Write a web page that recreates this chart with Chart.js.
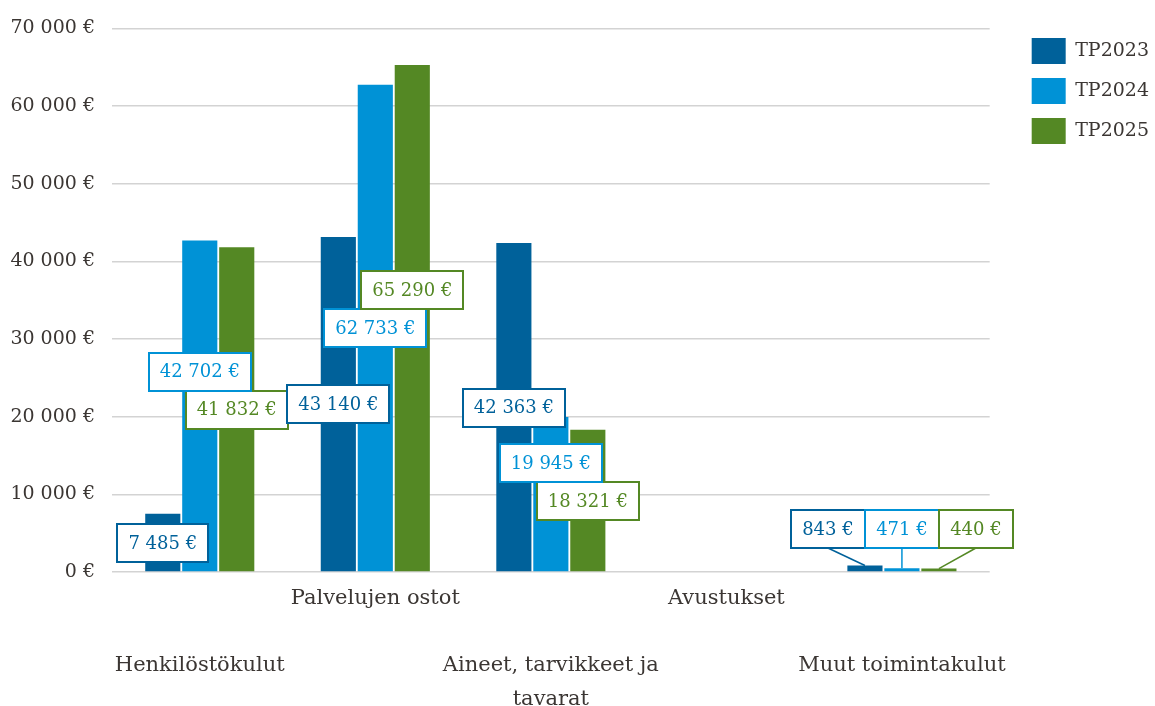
<!DOCTYPE html>
<html>
  <head>
    <meta charset="utf-8">
    <style type="text/css">
    body { margin: 0; background: #fff; }
    .chart-container {
        width: 1155px;
        height: 706px;
      }
    </style>
  </head>
    <body>
      <script src="https://cdn.jsdelivr.net/npm/chart.js@4.4.1/dist/chart.umd.min.js"></script>

      <div class="chart-container">
        <canvas id="myChart"></canvas>
      </div>

      <script>
        /* datas */
        const categories = ['Henkilöstökulut', 'Palvelujen ostot', ['Aineet, tarvikkeet ja', 'tavarat'], 'Avustukset', 'Muut toimintakulut'];
        const seriesNames = ['TP2023', 'TP2024', 'TP2025'];
        const tp2023 = [7485, 43140, 42363, null, 843];
        const tp2024 = [42702, 62733, 19945, null, 471];
        const tp2025 = [41832, 65290, 18321, null, 440];
        const yTicks = [0, 10000, 20000, 30000, 40000, 50000, 60000, 70000];

        const colors = ['#00619a', '#0092d6', '#548824'];
        const textColor = '#3b3633';
        const fontFamily = '"DejaVu Serif", serif';

        // 12345 -> "12 345"
        const fmt = (v) => String(Math.round(v)).replace(/\B(?=(\d{3})+(?!\d))/g, ' ');

        // every second category label is pushed down two lines, like the original
        const tickLabels = categories.map((c, i) => {
          const lines = Array.isArray(c) ? c : [c];
          return i % 2 === 0 ? ['', ''].concat(lines) : lines;
        });

        /* boxed value labels, moved up when they collide, callouts for tiny bars */
        const valueLabels = {
          id: 'valueLabels',
          afterDatasetsDraw(chart) {
            const ctx = chart.ctx;
            const base = chart.scales.y.getPixelForValue(0);
            const padX = 11, boxH = 38;
            ctx.save();
            ctx.font = '18px ' + fontFamily;
            ctx.textAlign = 'center';
            ctx.textBaseline = 'middle';

            categories.forEach((c, i) => {
              const items = [];
              chart.data.datasets.forEach((ds, d) => {
                const v = ds.data[i];
                if (v == null) return;
                const bar = chart.getDatasetMeta(d).data[i];
                const text = fmt(v) + ' €';
                items.push({ v, x: bar.x, top: bar.y, text, color: ds.backgroundColor,
                  w: Math.round(ctx.measureText(text).width + padX * 2) });
              });

              const inside = items.filter(it => base - it.top >= boxH).sort((a, b) => a.v - b.v);
              const outside = items.filter(it => base - it.top < boxH);

              const placed = [];
              inside.forEach(it => {
                it.cx = it.x;
                it.cy = (it.top + base) / 2;
                let moved = true;
                while (moved) {
                  moved = false;
                  for (const p of placed) {
                    if (Math.abs(p.cx - it.cx) < (p.w + it.w) / 2 && Math.abs(p.cy - it.cy) < boxH - 0.5) {
                      it.cy = p.cy - boxH;
                      moved = true;
                    }
                  }
                }
                placed.push(it);
              });

              if (outside.length) {
                const total = outside.reduce((s, it) => s + it.w, 0);
                const mid = outside.reduce((s, it) => s + it.x, 0) / outside.length;
                let x = mid - total / 2;
                outside.forEach(it => {
                  it.cx = x + it.w / 2;
                  x += it.w;
                  it.cy = base - 24 - boxH / 2;
                  it.leader = true;
                });
              }

              const all = inside.concat(outside);
              all.forEach(it => {
                if (!it.leader) return;
                ctx.strokeStyle = it.color;
                ctx.lineWidth = 1.5;
                ctx.beginPath();
                ctx.moveTo(it.cx, it.cy + boxH / 2);
                ctx.lineTo(it.x, it.top);
                ctx.stroke();
              });
              all.forEach(it => {
                const l = Math.round(it.cx - it.w / 2), t = Math.round(it.cy - boxH / 2);
                ctx.fillStyle = '#fff';
                ctx.fillRect(l, t, it.w, boxH);
                ctx.strokeStyle = it.color;
                ctx.lineWidth = 2;
                ctx.strokeRect(l, t, it.w, boxH);
                ctx.fillStyle = it.color;
                ctx.fillText(it.text, it.cx, it.cy + 1);
              });
            });
            ctx.restore();
          }
        };

        /* more room between plot and legend, legend items stay at the right */
        const legendGap = 24;
        const legendShift = {
          id: 'legendShift',
          beforeInit(chart) {
            const fit = chart.legend.fit;
            chart.legend.fit = function () {
              fit.call(this);
              this.width += legendGap;
            };
          },
          afterLayout(chart) {
            chart.legend.left += legendGap + 4;
            chart.legend.top += 4;
          }
        };

        const seriesData = [tp2023, tp2024, tp2025];

        const myChart = new Chart('myChart', {
          type: 'bar',
          data: {
            labels: tickLabels,
            datasets: seriesNames.map((name, k) => ({
              label: name,
              data: seriesData[k],
              backgroundColor: colors[k],
              borderWidth: 0,
              categoryPercentage: 0.632,
              barPercentage: 0.95
            }))
          },
          plugins: [valueLabels, legendShift],
          options: {
            responsive: true,
            maintainAspectRatio: false,
            animation: false,
            layout: { padding: { left: 10, top: 20, right: 0, bottom: 0 } },
            scales: {
              x: {
                grid: { display: false },
                border: { display: false },
                afterFit: (scale) => { scale.height = 134; },
                ticks: {
                  color: textColor,
                  font: { family: fontFamily, size: 21, lineHeight: 1.6 },
                  maxRotation: 0,
                  minRotation: 0,
                  autoSkip: false,
                  padding: 2
                }
              },
              y: {
                min: 0,
                max: 70000,
                afterBuildTicks: (scale) => { scale.ticks = yTicks.map(v => ({ value: v })); },
                afterFit: (scale) => { scale.width = 102; },
                grid: { color: '#d3d3d3', lineWidth: 1.5, drawTicks: false },
                border: { display: false },
                ticks: {
                  color: textColor,
                  font: { family: fontFamily, size: 19 },
                  padding: 17,
                  callback: (v) => fmt(v) + ' €'
                }
              }
            },
            plugins: {
              legend: {
                position: 'right',
                align: 'start',
                labels: {
                  color: textColor,
                  font: { family: fontFamily, size: 19 },
                  boxWidth: 34,
                  boxHeight: 26,
                  padding: 14
                }
              },
              tooltip: { enabled: false }
            }
          }
        });
      </script>
    </body>
</html>
